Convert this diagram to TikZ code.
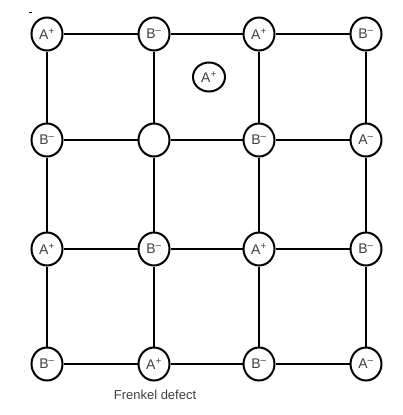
\documentclass[tikz,border=0pt]{standalone}
\usepackage{fontspec}
\setmainfont{Liberation Sans}
\usetikzlibrary{shapes.geometric}
\begin{document}
\begin{tikzpicture}[x=1pt,y=-1pt,
  ion/.style={draw=black,line width=2pt,fill=white,ellipse,minimum width=31pt,minimum height=33pt,inner sep=0pt,font=\fontsize{14}{15}\selectfont,text=black!75},
  bond/.style={line width=2pt,draw=black}]
\useasboundingbox (0,0) rectangle (403,415);
\def\Ap{A\textsuperscript{+}}
\def\Am{A\textsuperscript{\textendash}}
\def\Bm{B\textsuperscript{\textendash}}
% row 1
\node[ion] (a11) at (47,34) {\Ap};
\node[ion] (a12) at (154,34) {\Bm};
\node[ion] (a13) at (259,34) {\Ap};
\node[ion] (a14) at (366,34) {\Bm};
% row 2
\node[ion] (a21) at (47,140) {\Bm};
\node[ion] (a22) at (154,140) {};
\node[ion] (a23) at (259,140) {\Bm};
\node[ion] (a24) at (366,140) {\Am};
% row 3
\node[ion] (a31) at (47,249) {\Ap};
\node[ion] (a32) at (154,249) {\Bm};
\node[ion] (a33) at (259,249) {\Ap};
\node[ion] (a34) at (366,249) {\Bm};
% row 4
\node[ion] (a41) at (47,364) {\Bm};
\node[ion] (a42) at (154,364) {\Ap};
\node[ion] (a43) at (259,364) {\Bm};
\node[ion] (a44) at (366,364) {\Am};
% interstitial
\node[ion,minimum height=29pt,minimum width=32pt] (int) at (209,77) {\Ap};
% bonds
\foreach \r in {1,2,3,4}{
  \draw[bond] (a\r1) -- (a\r2);
  \draw[bond] (a\r2) -- (a\r3);
  \draw[bond] (a\r3) -- (a\r4);
}
\foreach \c in {1,2,3,4}{
  \draw[bond] (a1\c) -- (a2\c);
  \draw[bond] (a2\c) -- (a3\c);
  \draw[bond] (a3\c) -- (a4\c);
}
\coordinate (m1) at (29,12);
\coordinate (m2) at (32,12);
\draw[line width=1pt] (m1) -- (m2);
\node[font=\fontsize{13}{15}\selectfont,text=black!75] (cap) at (155,395) {Frenkel defect};
\end{tikzpicture}
\end{document}
